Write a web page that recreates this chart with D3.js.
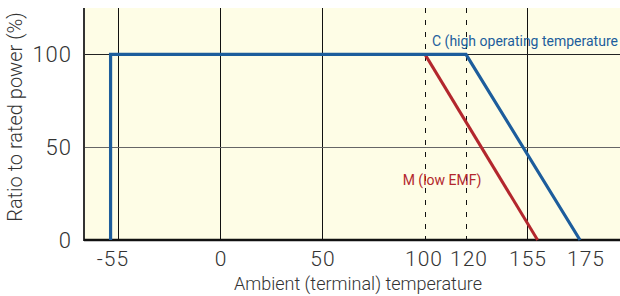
<!DOCTYPE html>
<html>
<head>
<meta charset="utf-8">
<script src="https://cdn.jsdelivr.net/npm/d3@7"></script>
<style>
	body { margin:0; background:#fff; }
	svg { display:block; }
	text { font-family:Roboto, "Liberation Sans", sans-serif; }
</style>
</head>
<body>
<svg id="chart" width="620" height="296"></svg>
<script>
// --------------------------------
// data
// --------------------------------

var xTicks = [-55, 0, 50, 100, 120, 155, 175];
var xDashed = [100, 120];
var yTicks = [0, 50, 100];

// C (high operating temperature) derating curve
var seriesC = [[-59, 0], [-59, 100], [120, 100], [175, 0]];
// M (low EMF) derating curve
var seriesM = [[100, 100], [159, 0]];

(function() {

	var svg = d3.select("#chart");
	var left = 84, right = 620, top = 8, bottom = 240;

	// the temperature axis is schematic, not linear
	var x = d3.scaleLinear()
		.domain(xTicks)
		.range([118, 220, 322, 425, 466, 527, 580]);
	var y = d3.scaleLinear().domain([0, 125]).range([bottom, top]);

	// nudge of the tick labels, as in the original drawing
	var labelShift = {"-55": -5, "100": -1, "120": 3, "175": 6};

	svg.append("rect")
		.attr("x", left).attr("y", top)
		.attr("width", right - left).attr("height", bottom - top)
		.attr("fill", "#fefde6");

	// vertical grid
	svg.append("g").selectAll("line")
		.data(xTicks.filter(function(d){ return d != 175; }))
		.enter().append("line")
		.attr("x1", function(d){ return Math.round(x(d)) + 0.5; })
		.attr("x2", function(d){ return Math.round(x(d)) + 0.5; })
		.attr("y1", top).attr("y2", bottom)
		.attr("stroke", "#111")
		.attr("stroke-width", 1)
		.attr("stroke-dasharray", function(d){ return xDashed.indexOf(d) >= 0 ? "5,7" : null; });

	// horizontal grid
	svg.append("g").selectAll("line")
		.data([50, 100])
		.enter().append("line")
		.attr("x1", left).attr("x2", right)
		.attr("y1", function(d){ return Math.round(y(d)) + 0.5; })
		.attr("y2", function(d){ return Math.round(y(d)) + 0.5; })
		.attr("stroke", function(d){ return d == 50 ? "#666" : "#222"; })
		.attr("stroke-width", 1);

	// axes lines
	svg.append("line")
		.attr("x1", left).attr("x2", left).attr("y1", top).attr("y2", bottom + 1)
		.attr("stroke", "#333").attr("stroke-width", 2);
	svg.append("line")
		.attr("x1", left).attr("x2", right).attr("y1", bottom).attr("y2", bottom)
		.attr("stroke", "#111").attr("stroke-width", 2.5);

	// curves
	var line = d3.line()
		.x(function(d){ return x(d[0]); })
		.y(function(d){ return y(d[1]); });

	svg.append("path")
		.attr("d", line(seriesM))
		.attr("fill", "none").attr("stroke", "#b3272d").attr("stroke-width", 3);
	svg.append("path")
		.attr("d", line(seriesC))
		.attr("fill", "none").attr("stroke", "#1d5d9c").attr("stroke-width", 3.2)
		.attr("stroke-linejoin", "miter");

	// tick labels
	svg.append("g").selectAll("text")
		.data(xTicks)
		.enter().append("text")
		.attr("x", function(d){ return x(d) + (labelShift[d] !== undefined ? labelShift[d] : 1); })
		.attr("y", 266)
		.attr("text-anchor", "middle")
		.attr("style", "font-size:21px;font-weight:300;letter-spacing:1px;fill:#333")
		.text(function(d){ return d; });

	svg.append("g").selectAll("text")
		.data(yTicks)
		.enter().append("text")
		.attr("x", 72)
		.attr("y", function(d){ return y(d) + 8; })
		.attr("text-anchor", "end")
		.attr("style", "font-size:22px;font-weight:300;letter-spacing:1px;fill:#333")
		.text(function(d){ return d; });

	// axis titles
	svg.append("text")
		.attr("x", 358).attr("y", 290)
		.attr("text-anchor", "middle")
		.attr("style", "font-size:18px;font-weight:300;fill:#333")
		.text("Ambient (terminal) temperature");

	svg.append("text")
		.attr("transform", "translate(22,117) rotate(-90)")
		.attr("text-anchor", "middle")
		.attr("style", "font-size:20px;font-weight:300;fill:#333")
		.text("Ratio to rated power (%)");

	// series labels
	svg.append("text")
		.attr("x", 432).attr("y", 46)
		.attr("style", "font-size:14px;fill:#1d5d9c")
		.text("C (high operating temperature");

	svg.append("text")
		.attr("x", 442).attr("y", 185)
		.attr("text-anchor", "middle")
		.attr("style", "font-size:14px;fill:#b3272d")
		.text("M (low EMF)");

})();
</script>
</body>
</html>
